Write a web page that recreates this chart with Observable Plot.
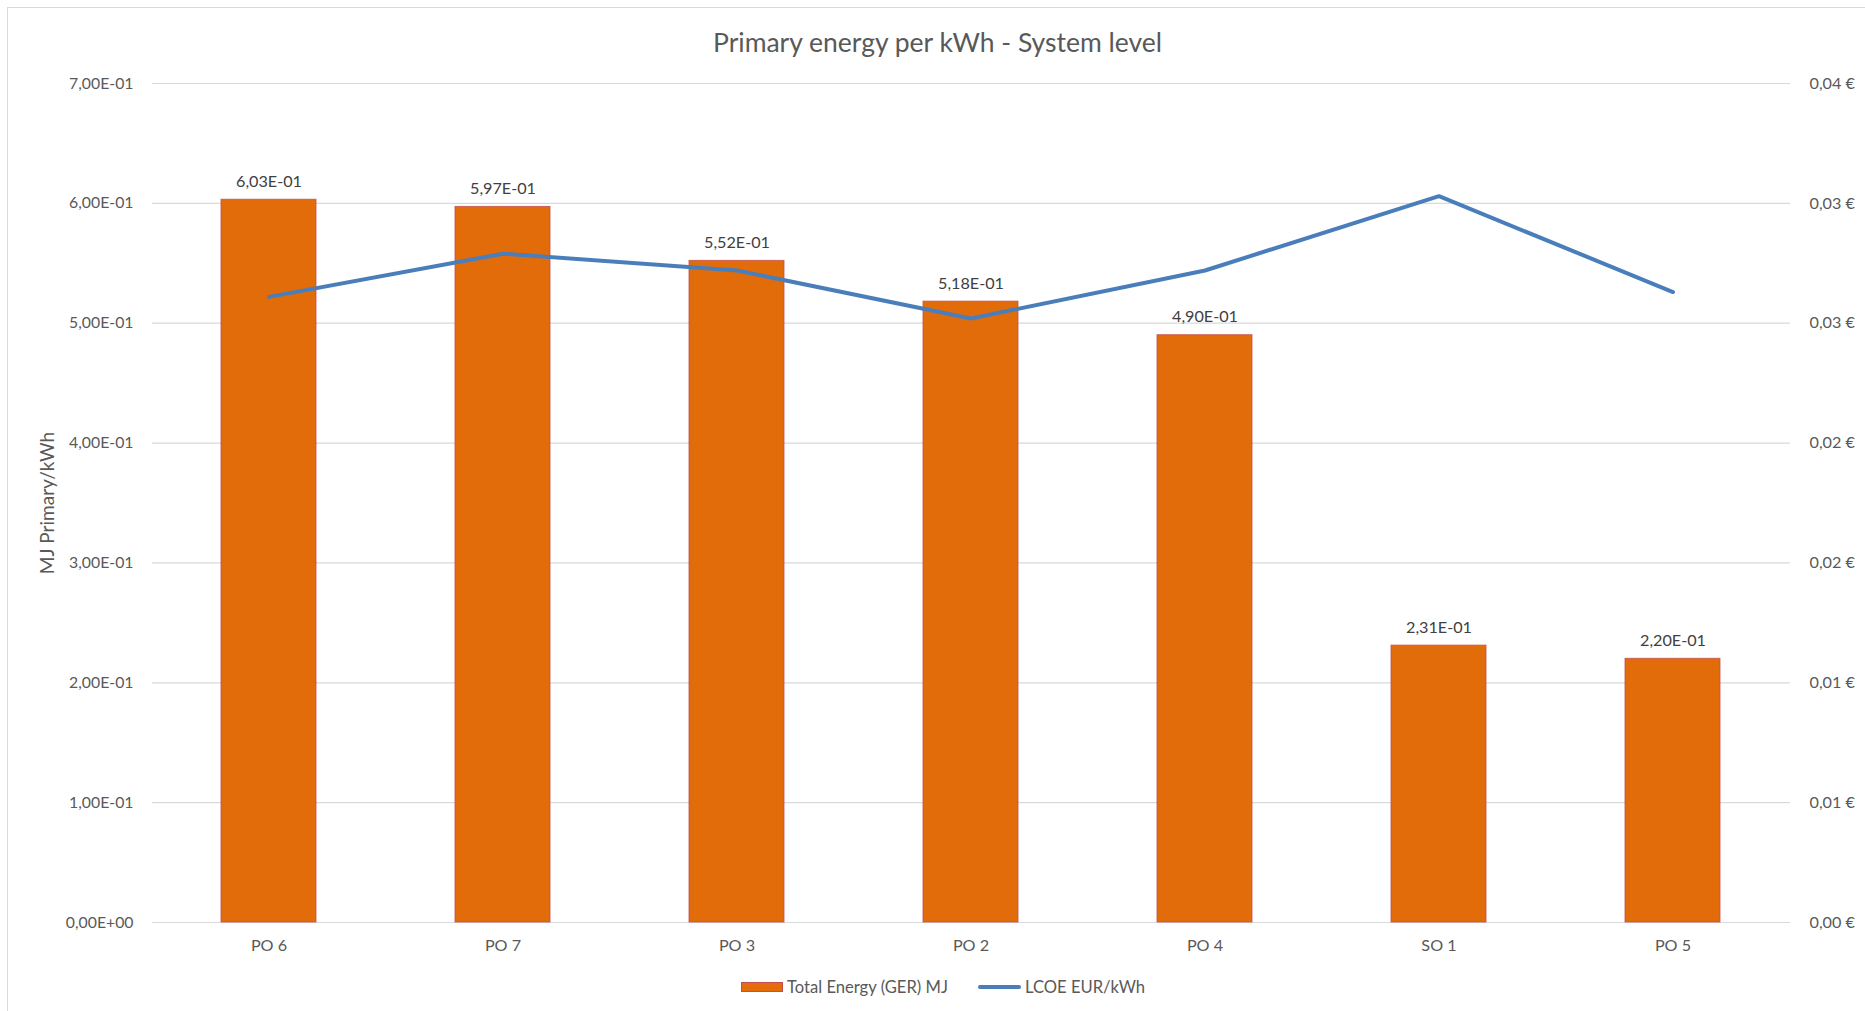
<!DOCTYPE html>
<html>
<head>
<meta charset="utf-8">
<script src="https://cdn.jsdelivr.net/npm/d3@7"></script>
<script src="https://cdn.jsdelivr.net/npm/@observablehq/plot@0.6"></script>
<style>
  html, body { margin: 0; padding: 0; background: #fff; }
  body { width: 1865px; height: 1011px; overflow: hidden; position: relative; font-family: Lato, "Open Sans", sans-serif; color: #595959; }
  #frame { position: absolute; left: 7px; top: 7px; width: 1900px; height: 1100px; border-left: 1.5px solid #D9D9D9; border-top: 1.5px solid #D9D9D9; box-sizing: border-box; }
  #title { position: absolute; left: 5px; width: 1865px; top: 27px; height: 30px; line-height: 30px; text-align: center; font-size: 26.5px; color: #595959; }
  #chart { position: absolute; left: 0; top: 60px; }
  #legend { position: absolute; top: 975px; left: 0; width: 1865px; height: 24px; font-size: 16.6px; color: #595959; }
  .item { position: absolute; top: 0; height: 24px; line-height: 24px; display: flex; align-items: center; }
  .swatch-bar { width: 42px; height: 10px; background: #E46C0A; border: 1px solid #C0504D; box-sizing: border-box; margin-right: 4px; }
  .swatch-line { width: 43px; height: 4px; background: #4A7EBB; border-radius: 2px; margin-right: 4px; }
</style>
</head>
<body>
<div id="frame"></div>
<div id="title"></div>
<div id="chart"></div>
<div id="legend">
  <div class="item" style="left:741px"><span class="swatch-bar"></span><span id="lg1"></span></div>
  <div class="item" style="left:978px"><span class="swatch-line"></span><span id="lg2"></span></div>
</div>
<script>
// ---- Data ----
const categories = ["PO 6", "PO 7", "PO 3", "PO 2", "PO 4", "SO 1", "PO 5"];
const totalEnergy = [0.603, 0.597, 0.552, 0.518, 0.490, 0.231, 0.220];
const lcoe = [0.0261, 0.0279, 0.0272, 0.0252, 0.0272, 0.0303, 0.0263];
const leftTicks = [0, 0.1, 0.2, 0.3, 0.4, 0.5, 0.6, 0.7];
const rightTicks = [0, 0.005, 0.01, 0.015, 0.02, 0.025, 0.03, 0.035];
const seriesNames = ["Total Energy (GER) MJ", "LCOE EUR/kWh"];
const chartTitle = "Primary energy per kWh - System level";
const yLabel = "MJ Primary/kWh";

document.getElementById("lg1").textContent = seriesNames[0];
document.getElementById("lg2").textContent = seriesNames[1];
document.getElementById("title").textContent = chartTitle;

// ---- Formatting ----
function sci(v) {
  if (v === 0) return "0,00E+00";
  const [m, e] = v.toExponential(2).split("e");
  const sign = e[0] === "-" ? "-" : "+";
  return m.replace(".", ",") + "E" + sign + String(Math.abs(+e)).padStart(2, "0");
}
function eur(v) {
  return (Math.round(v * 100 + 1e-6) / 100).toFixed(2).replace(".", ",") + " \u20AC";
}

const leftMax = leftTicks[leftTicks.length - 1];
const rightMax = rightTicks[rightTicks.length - 1];
const k = leftMax / rightMax; // secondary axis mapping

const rows = categories.map((c, i) => ({cat: c, energy: totalEnergy[i], lcoe: lcoe[i]}));

const W = 1865, H = 902;
const font = "Lato, 'Open Sans', sans-serif";

const plot = Plot.plot({
  width: W,
  height: H,
  marginLeft: 152,
  marginRight: 75,
  marginTop: 23,
  marginBottom: 40,
  style: {fontFamily: font, fontSize: "16px", color: "#595959", background: "transparent"},
  x: {domain: categories, paddingInner: 0.594, paddingOuter: 0.297, label: null},
  y: {domain: [0, leftMax], label: null},
  marks: [
    Plot.ruleY(leftTicks, {stroke: "#D9D9D9", strokeWidth: 1.2}),
    Plot.barY(rows, {x: "cat", y: "energy", fill: "#E36C0A", stroke: "#C0504D", strokeWidth: 1, strokeOpacity: 0.8}),
    Plot.text(rows, {x: "cat", y: "energy", text: d => sci(d.energy), dy: -18, fontSize: 16.2, fill: "#404040"}),
    Plot.line(rows, {x: "cat", y: d => d.lcoe * k, stroke: "#4A7EBB", strokeWidth: 4, strokeLinejoin: "round", strokeLinecap: "round"}),
    Plot.axisX({tickSize: 0, tickPadding: 17, fontSize: 16.2, label: null}),
    Plot.axisY({anchor: "left", ticks: leftTicks, tickFormat: sci, tickSize: 0, tickPadding: 19, fontSize: 15.8, label: null}),
    Plot.axisY({anchor: "right", ticks: rightTicks.map(v => v * k), tickFormat: d => eur(d / k), tickSize: 0, tickPadding: 19, fontSize: 16.2, label: null}),
    Plot.text([yLabel], {frameAnchor: "left", textAnchor: "middle", dx: -105, rotate: -90, fontSize: 19, text: d => d, fill: "#595959"})
  ]
});
document.getElementById("chart").appendChild(plot);
</script>
</body>
</html>
